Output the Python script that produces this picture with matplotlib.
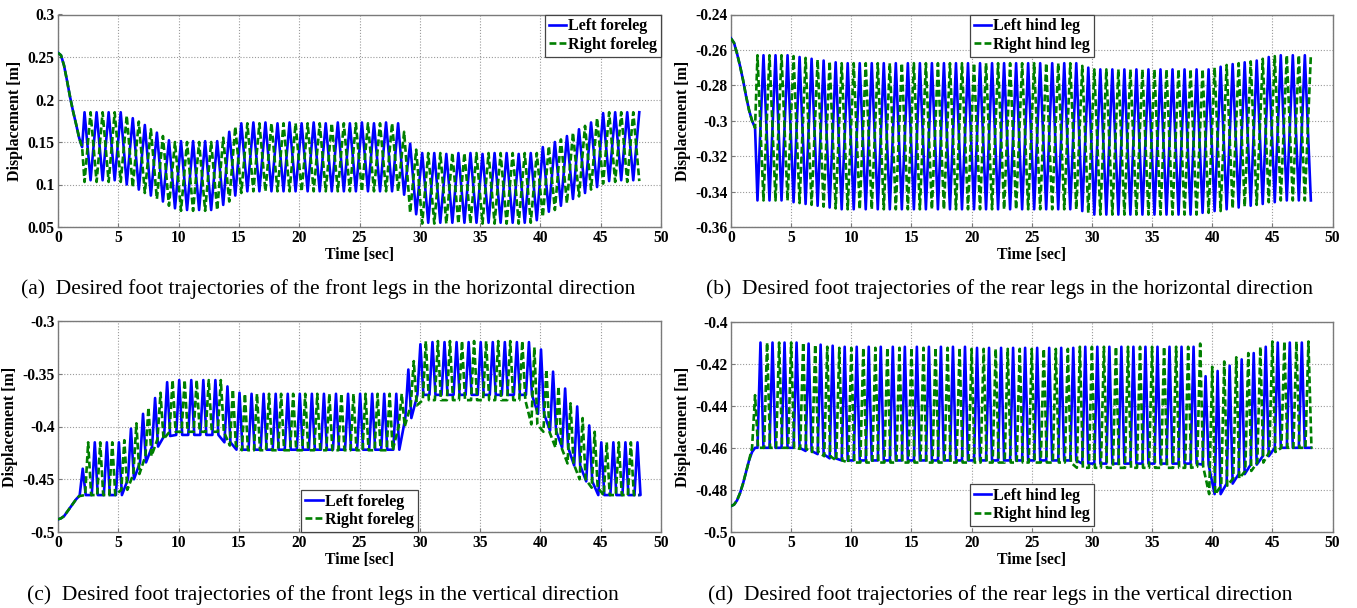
import numpy as np
import matplotlib
matplotlib.use('Agg')
import matplotlib.pyplot as plt
from matplotlib.ticker import FuncFormatter, MultipleLocator

plt.rcParams['font.family'] = ['Liberation Serif', 'DejaVu Serif']

# ------------------------------------------------------------------ data
T_END = 48.2

# (a) front legs, horizontal  -- shared start-up segment
a_init_t = [0.0, 0.25, 0.5, 0.75, 1.0, 1.25, 1.5, 1.75, 2.0]
a_init_y = [0.255, 0.252, 0.240, 0.222, 0.203, 0.186, 0.171, 0.155, 0.144]
# left foreleg: peaks from t=2.2, troughs from t=2.7, one per second
a_left_peaks = [0.185, 0.185, 0.185, 0.185, 0.178, 0.170, 0.161, 0.152, 0.151, 0.151, 0.151, 0.151, 0.162, 0.172,
                0.173, 0.173, 0.172, 0.173, 0.172, 0.173, 0.172, 0.173, 0.172, 0.173, 0.172, 0.173, 0.172,
                0.148,
                0.137, 0.137, 0.136, 0.137, 0.137, 0.136, 0.137, 0.137, 0.136, 0.137,
                0.144, 0.150, 0.157, 0.165, 0.173, 0.184, 0.185, 0.185, 0.185]
a_left_troughs = [0.105, 0.105, 0.105, 0.100, 0.094, 0.087, 0.080, 0.072, 0.070, 0.070, 0.070, 0.076, 0.087,
                  0.092, 0.092, 0.092, 0.092, 0.092, 0.092, 0.092, 0.092, 0.092, 0.092, 0.092, 0.092, 0.092,
                  0.088, 0.065,
                  0.055, 0.055, 0.055, 0.055, 0.055, 0.055, 0.055, 0.055, 0.055, 0.058,
                  0.068, 0.075, 0.083, 0.090, 0.097, 0.104, 0.105, 0.105]
# right foreleg: troughs from t=2.2, peaks from t=2.7
a_right_troughs = [0.103, 0.103, 0.103, 0.103, 0.097, 0.090, 0.083, 0.075, 0.069, 0.069, 0.069, 0.070, 0.080, 0.090,
                   0.092, 0.092, 0.092, 0.092, 0.092, 0.092, 0.092, 0.092, 0.092, 0.092, 0.092, 0.092, 0.092,
                   0.067,
                   0.054, 0.054, 0.054, 0.054, 0.054, 0.054, 0.054, 0.054, 0.054, 0.055,
                   0.062, 0.070, 0.078, 0.086, 0.094, 0.101, 0.103, 0.103, 0.104]
a_right_peaks = [0.185, 0.185, 0.185, 0.181, 0.174, 0.165, 0.157, 0.150, 0.150, 0.150, 0.150, 0.155, 0.168,
                 0.172, 0.172, 0.172, 0.172, 0.172, 0.172, 0.172, 0.172, 0.172, 0.172, 0.172, 0.172, 0.172,
                 0.162, 0.141,
                 0.137, 0.137, 0.137, 0.137, 0.137, 0.137, 0.137, 0.137, 0.137, 0.137,
                 0.145, 0.153, 0.161, 0.169, 0.178, 0.185, 0.185, 0.185]

# (b) rear legs, horizontal
b_init_t = [0.0, 0.25, 0.5, 0.75, 1.0, 1.25, 1.5, 1.75, 2.0]
b_init_y = [-0.2535, -0.256, -0.262, -0.269, -0.277, -0.286, -0.294, -0.300, -0.304]
# left hind leg: troughs from t=2.2, peaks from t=2.7
b_left_troughs = [-0.345, -0.345, -0.345, -0.346, -0.347, -0.348, -0.349, -0.350,
                  -0.350, -0.350, -0.350, -0.350, -0.350, -0.350, -0.350, -0.350, -0.350, -0.350,
                  -0.350, -0.350, -0.350, -0.350, -0.350, -0.350, -0.350, -0.350, -0.350,
                  -0.351,
                  -0.353, -0.353, -0.353, -0.353, -0.353, -0.353, -0.353, -0.353, -0.353,
                  -0.352, -0.351, -0.350, -0.349, -0.348, -0.347, -0.346, -0.345, -0.345, -0.345]
b_left_peaks = [-0.263, -0.263, -0.263, -0.264, -0.265, -0.266, -0.267,
                -0.2675, -0.2675, -0.2675, -0.2675, -0.2675, -0.2675, -0.2675, -0.2675, -0.2675, -0.2675,
                -0.2675, -0.2675, -0.2675, -0.2675, -0.2675, -0.2675, -0.2675, -0.2675, -0.2675, -0.2675,
                -0.270,
                -0.271, -0.271, -0.271, -0.271, -0.271, -0.271, -0.271, -0.271, -0.271, -0.271,
                -0.2695, -0.268, -0.267, -0.266, -0.264, -0.263, -0.263, -0.263]
# right hind leg: peaks from t=2.2, troughs from t=2.7
b_right_peaks = [-0.263, -0.263, -0.263, -0.2635, -0.2645, -0.2655, -0.2665, -0.2675,
                 -0.2675, -0.2675, -0.2675, -0.2675, -0.2675, -0.2675, -0.2675, -0.2675, -0.2675, -0.2675,
                 -0.2675, -0.2675, -0.2675, -0.2675, -0.2675, -0.2675, -0.2675, -0.2675, -0.2675,
                 -0.269,
                 -0.271, -0.271, -0.271, -0.271, -0.271, -0.271, -0.271, -0.271, -0.271, -0.271,
                 -0.270, -0.2685, -0.2675, -0.2665, -0.265, -0.2635, -0.263, -0.263, -0.263]
b_right_troughs = [-0.345, -0.345, -0.345, -0.3465, -0.3475, -0.3485, -0.3495,
                   -0.350, -0.350, -0.350, -0.350, -0.350, -0.350, -0.350, -0.350, -0.350, -0.350,
                   -0.350, -0.350, -0.350, -0.350, -0.350, -0.350, -0.350, -0.350, -0.350, -0.350,
                   -0.352,
                   -0.353, -0.353, -0.353, -0.353, -0.353, -0.353, -0.353, -0.353, -0.353,
                   -0.352, -0.351, -0.3495, -0.3485, -0.3475, -0.346, -0.345, -0.345, -0.345]

# (c) front legs, vertical
c_init_t = [0.0, 0.25, 0.5, 0.75, 1.0, 1.25, 1.5, 1.75]
c_init_y = [-0.488, -0.487, -0.485, -0.481, -0.477, -0.473, -0.469, -0.466]
# left foreleg: one swing spike per second from t=2.05
c_left_peaks = [-0.440, -0.415, -0.415, -0.415, -0.402, -0.388, -0.373, -0.358, -0.356, -0.356, -0.356, -0.356, -0.362, -0.368,
                -0.369, -0.369, -0.369, -0.369, -0.369, -0.369, -0.369, -0.369, -0.369, -0.369, -0.369, -0.369, -0.369,
                -0.346, -0.322,
                -0.320, -0.320, -0.320, -0.320, -0.320, -0.320, -0.320, -0.320, -0.320,
                -0.327, -0.348, -0.364, -0.381, -0.399, -0.415, -0.415, -0.415, -0.415]
c_left_base = [-0.465, -0.465, -0.465, -0.465, -0.450, -0.434, -0.419, -0.409, -0.408, -0.408, -0.408, -0.408, -0.415, -0.422,
               -0.422, -0.422, -0.422, -0.422, -0.422, -0.422, -0.422, -0.422, -0.422, -0.422, -0.422, -0.422, -0.422,
               -0.392, -0.370,
               -0.370, -0.370, -0.370, -0.370, -0.370, -0.370, -0.370, -0.370, -0.370,
               -0.388, -0.404, -0.420, -0.437, -0.452, -0.465, -0.465, -0.465, -0.465]
# right foreleg: spikes from t=2.5
c_right_peaks = [-0.415, -0.415, -0.415, -0.413, -0.397, -0.382, -0.368, -0.356,
                 -0.356, -0.356, -0.356, -0.356, -0.365,
                 -0.369, -0.369, -0.369, -0.369, -0.369, -0.369, -0.369, -0.369, -0.369, -0.369, -0.369, -0.369, -0.369,
                 -0.369, -0.338,
                 -0.319, -0.319, -0.319, -0.319, -0.319, -0.319, -0.319, -0.319, -0.319,
                 -0.325, -0.346, -0.362, -0.378, -0.392, -0.405, -0.415, -0.415, -0.415]
c_right_base = [-0.465, -0.465, -0.465, -0.460, -0.445, -0.428, -0.412, -0.405,
                -0.405, -0.405, -0.405, -0.405, -0.418,
                -0.4225, -0.4225, -0.4225, -0.4225, -0.4225, -0.4225, -0.4225, -0.4225, -0.4225, -0.4225, -0.4225, -0.4225, -0.4225,
                -0.400, -0.380,
                -0.375, -0.375, -0.375, -0.375, -0.375, -0.375, -0.375, -0.375, -0.375,
                -0.398, -0.405, -0.420, -0.435, -0.450, -0.458, -0.465, -0.465, -0.465]

# (d) rear legs, vertical
d_init_t = [0.0, 0.25, 0.5, 0.75, 1.0, 1.25, 1.5, 1.75, 2.0]
d_init_y = [-0.4877, -0.4870, -0.4850, -0.4815, -0.4770, -0.4715, -0.4660, -0.4620, -0.4600]
# left hind leg: spikes from t=2.45
d_left_peaks = [-0.410, -0.410, -0.410, -0.410, -0.4105, -0.411, -0.4115,
                -0.412, -0.412, -0.412, -0.412, -0.412, -0.412, -0.412, -0.412, -0.412, -0.412, -0.412,
                -0.4125, -0.4125, -0.4125, -0.4125, -0.4125, -0.4125, -0.4125, -0.4125, -0.4125,
                -0.412, -0.412, -0.412, -0.412, -0.412, -0.412, -0.412, -0.412, -0.412, -0.412,
                -0.426, -0.4235, -0.421, -0.418, -0.415, -0.412, -0.410, -0.410, -0.410]
d_left_base = [-0.460, -0.460, -0.460, -0.460, -0.4615, -0.463, -0.465,
               -0.466, -0.466, -0.466, -0.466, -0.466, -0.466, -0.466, -0.466, -0.466, -0.466, -0.466,
               -0.466, -0.466, -0.466, -0.466, -0.466, -0.466, -0.466, -0.466, -0.466,
               -0.4675, -0.4675, -0.4675, -0.4675, -0.4675, -0.4675, -0.4675, -0.4675, -0.4675, -0.4675,
               -0.468, -0.482, -0.477, -0.4725, -0.468, -0.464, -0.460, -0.460, -0.460]
# right hind leg: spikes from t=2.0
d_right_peaks = [-0.435, -0.410, -0.410, -0.410, -0.410, -0.411, -0.412,
                 -0.4125, -0.4125, -0.4125, -0.4125, -0.4125, -0.4125, -0.4125, -0.4125, -0.4125, -0.4125, -0.4125,
                 -0.413, -0.413, -0.413, -0.413, -0.413, -0.413, -0.413, -0.413, -0.413,
                 -0.412, -0.412, -0.412, -0.412, -0.412, -0.412, -0.412, -0.412, -0.412, -0.412,
                 -0.4105, -0.4215, -0.419, -0.417, -0.415, -0.412, -0.4095, -0.4095, -0.4095, -0.4095]
d_right_base = [-0.460, -0.460, -0.460, -0.460, -0.4605, -0.462, -0.464, -0.466,
                -0.467, -0.467, -0.467, -0.467, -0.467, -0.467, -0.467, -0.467, -0.467, -0.467,
                -0.467, -0.467, -0.467, -0.467, -0.467, -0.467, -0.467, -0.467, -0.467,
                -0.4695, -0.4695, -0.4695, -0.4695, -0.4695, -0.4695, -0.4695, -0.4695, -0.4695, -0.4695,
                -0.469, -0.482, -0.478, -0.4745, -0.471, -0.467, -0.462, -0.460, -0.460, -0.460]

x_ticks = [0, 5, 10, 15, 20, 25, 30, 35, 40, 45, 50]
captions = ["(a)  Desired foot trajectories of the front legs in the horizontal direction",
            "(b)  Desired foot trajectories of the rear legs in the horizontal direction",
            "(c)  Desired foot trajectories of the front legs in the vertical direction",
            "(d)  Desired foot trajectories of the rear legs in the vertical direction"]

# ------------------------------------------------------------------ helpers
def swing_series(init_t, init_y, first, t_first, seconds):
    """alternating extremes (one list starting at t_first, other half a step later)."""
    a, b = first, seconds
    ta = t_first + np.arange(len(a))
    tb = t_first + 0.5 + np.arange(len(b))
    t = np.concatenate([ta, tb])
    y = np.concatenate([a, b])
    o = np.argsort(t)
    t, y = t[o], y[o]
    return np.concatenate([init_t, t]), np.concatenate([init_y, y])


def spike_series(init_t, init_y, peaks, bases, t_first, end_val, hw=0.25):
    ts = t_first + np.arange(len(peaks))
    tt, yy = [], []
    for s, p, b in zip(ts, peaks, bases):
        tt += [s - hw, s, s + hw]
        yy += [b, p, b]
    it = np.asarray(init_t)
    iy = np.asarray(init_y)
    m = it < tt[0]
    tt.append(T_END)
    yy.append(end_val)
    return np.concatenate([it[m], tt]), np.concatenate([iy[m], yy])


def fmt(v, pos):
    s = ('%g' % round(v, 4))
    return s.replace('\u2212', '-')


# ------------------------------------------------------------------ figure
fig = plt.figure(figsize=(13.57, 6.08), dpi=100)
W, H = 1357.0, 608.0
boxes = [(58, 14.5, 661, 227), (731, 14.5, 1332.5, 227),
         (58, 321, 661, 532), (731, 321.5, 1332.5, 532)]
axes = []
for (l, t, r, b) in boxes:
    axes.append(fig.add_axes([l / W, 1 - b / H, (r - l) / W, (b - t) / H]))

BLUE = '#0000ff'
GREEN = '#007f00'
lw = 1.9
dash = (2.6, 1.2)

series = [
    swing_series(a_init_t, a_init_y, a_left_peaks, 2.2, a_left_troughs),
    swing_series(a_init_t, a_init_y, a_right_troughs, 2.2, a_right_peaks),
    swing_series(b_init_t, b_init_y, b_left_troughs, 2.2, b_left_peaks),
    swing_series(b_init_t, b_init_y, b_right_peaks, 2.2, b_right_troughs),
    spike_series(c_init_t, c_init_y, c_left_peaks, c_left_base, 2.05, -0.465),
    spike_series(c_init_t, c_init_y, c_right_peaks, c_right_base, 2.5, -0.465),
    spike_series(d_init_t, d_init_y, d_left_peaks, d_left_base, 2.45, -0.46),
    spike_series(d_init_t, d_init_y, d_right_peaks, d_right_base, 2.0, -0.46),
]
labels = [("Left foreleg", "Right foreleg"), ("Left hind leg", "Right hind leg"),
          ("Left foreleg", "Right foreleg"), ("Left hind leg", "Right hind leg")]
ylims = [(0.05, 0.3), (-0.36, -0.24), (-0.5, -0.3), (-0.5, -0.4)]
ysteps = [0.05, 0.02, 0.05, 0.02]
legend_locs = ['upper right', 'upper center', 'lower center', 'lower center']
legend_pads = [0.0, 0.0, 0.0, 0.35]

for i, ax in enumerate(axes):
    tl, yl = series[2 * i]
    tr, yr = series[2 * i + 1]
    ax.plot(tl, yl, color=BLUE, lw=lw, label=labels[i][0], zorder=3)
    ax.plot(tr, yr, color=GREEN, lw=lw, dashes=dash, label=labels[i][1], zorder=4)
    ax.set_xlim(0, 50)
    ax.set_ylim(*ylims[i])
    ax.set_xticks(x_ticks)
    ax.yaxis.set_major_locator(MultipleLocator(ysteps[i]))
    ax.yaxis.set_major_formatter(FuncFormatter(fmt))
    ax.grid(True, color='#9a9a9a', linestyle=(0, (1, 1.6)), linewidth=0.8)
    ax.set_axisbelow(True)
    for sp in ax.spines.values():
        sp.set_color('#7a7a7a')
        sp.set_linewidth(1.0)
    ax.tick_params(direction='in', length=3, width=0.8, color='#7a7a7a',
                   labelsize=11.2, pad=2.5)
    for lab in ax.get_xticklabels() + ax.get_yticklabels():
        lab.set_fontweight('bold')
    ax.set_xlabel('Time [sec]', fontsize=11.3, fontweight='bold', labelpad=0.5)
    ax.set_ylabel('Displacement [m]', fontsize=11.5, fontweight='bold', labelpad=3)
    leg = ax.legend(loc=legend_locs[i], borderaxespad=legend_pads[i], fancybox=False,
                    prop={'weight': 'bold', 'size': 11.5}, handlelength=1.1,
                    handletextpad=0.1, labelspacing=0.15, borderpad=0.25,
                    framealpha=1.0, edgecolor='#444444')
    leg.get_frame().set_linewidth(0.9)
    leg.set_zorder(10)

cap_pos = [(328, 289), (1010, 289), (323, 595), (1000, 595)]
for (cx, cy), txt in zip(cap_pos, captions):
    fig.text(cx / W, 1 - cy / H, txt, ha='center', va='center', fontsize=15.5)

fig.savefig('out.png', dpi=100)
